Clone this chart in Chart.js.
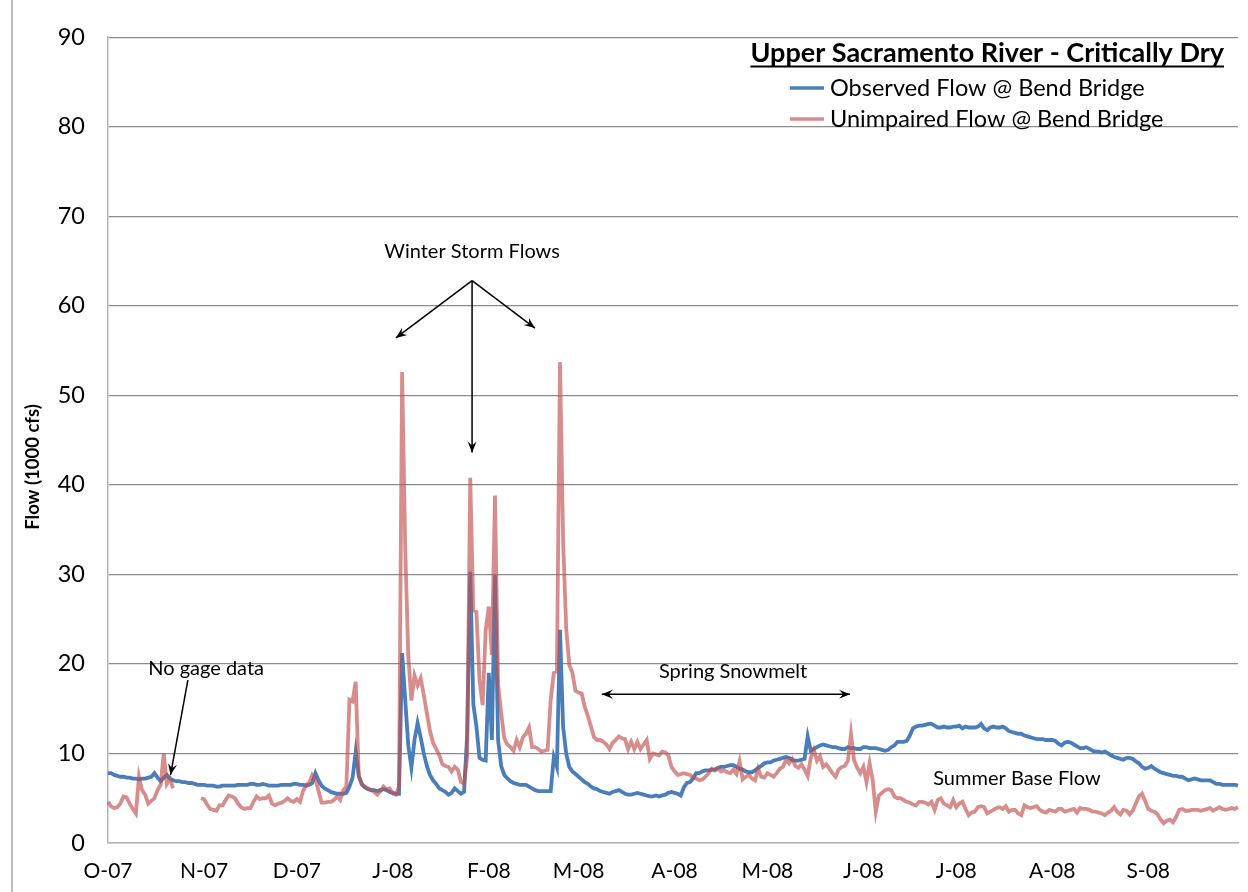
<!DOCTYPE html>
<html>
<head>
<meta charset="utf-8">
<title>Upper Sacramento River - Critically Dry</title>
<script src="https://cdn.jsdelivr.net/npm/chart.js@4.4.1/dist/chart.umd.min.js"></script>
<style>
    html, body { margin: 0; padding: 0; background: #fff; }
    #wrap { position: relative; width: 1248px; height: 892px; }
</style>
</head>
<body>
<div id="wrap"><canvas id="flow-canvas"></canvas></div>
<script>
// ========== Colors
let observedColor = '#4a7ebb';
let unimpairedColor = 'rgba(192, 80, 77, 0.65)';
let gridColor = '#8c8c8c';
let axisColor = '#b3b3b3';

// ========== Axis categories (water year Oct 2007 - Sep 2008, daily)
let monthTicks = ['O-07', 'N-07', 'D-07', 'J-08', 'F-08', 'M-08', 'A-08', 'M-08', 'J-08', 'J-08', 'A-08', 'S-08'];
let monthDays = [31, 30, 31, 31, 29, 31, 30, 31, 30, 31, 31, 30];

// ========== Observed Flow @ Bend Bridge (1000 cfs), one line per month
let observed = [
    7.8, 7.8, 7.6, 7.5, 7.4, 7.4, 7.3, 7.3, 7.2, 7.2, 7.1, 7.2, 7.2, 7.3, 7.4, 7.8, 7.3, 6.9, 7.3, 7.6, 7.2, 7.0, 6.9, 6.9, 6.8, 6.8, 6.7, 6.7, 6.6, 6.5, 6.5,
    6.5, 6.4, 6.4, 6.4, 6.3, 6.3, 6.4, 6.4, 6.4, 6.4, 6.4, 6.5, 6.5, 6.5, 6.5, 6.6, 6.6, 6.5, 6.5, 6.6, 6.5, 6.4, 6.4, 6.4, 6.4, 6.5, 6.5, 6.5, 6.5, 6.6,
    6.6, 6.5, 6.5, 6.4, 6.5, 6.7, 7.8, 7.0, 6.4, 6.1, 5.9, 5.7, 5.6, 5.5, 5.5, 5.5, 5.6, 6.3, 7.3, 10.2, 7.5, 6.6, 6.2, 6.0, 5.9, 5.9, 5.8, 5.9, 6.0, 5.9, 5.7,
    5.6, 5.5, 5.5, 21.2, 16.0, 10.9, 8.4, 11.5, 13.4, 11.8, 10.0, 8.6, 7.6, 7.0, 6.6, 6.1, 5.9, 5.7, 5.4, 5.6, 6.1, 5.8, 5.5, 5.7, 12.0, 30.3, 15.5, 13.0, 9.5, 9.3, 9.2,
    19.0, 11.5, 29.9, 11.5, 8.6, 7.6, 7.2, 6.9, 6.7, 6.6, 6.5, 6.5, 6.5, 6.3, 6.1, 5.9, 5.8, 5.8, 5.8, 5.8, 5.8, 9.6, 8.5, 23.8, 13.0, 10.0, 8.5, 8.0, 7.7,
    7.4, 7.1, 6.8, 6.6, 6.3, 6.1, 6.0, 5.8, 5.7, 5.6, 5.5, 5.7, 5.8, 5.9, 5.7, 5.5, 5.4, 5.4, 5.5, 5.6, 5.5, 5.4, 5.3, 5.2, 5.2, 5.3, 5.2, 5.3, 5.4, 5.6, 5.7,
    5.6, 5.5, 5.3, 6.2, 6.7, 6.8, 7.2, 7.8, 7.8, 8.0, 8.1, 8.1, 8.2, 8.2, 8.4, 8.5, 8.5, 8.6, 8.7, 8.7, 8.5, 8.3, 8.2, 8.0, 7.9, 7.9, 8.1, 8.4, 8.6, 8.9,
    9.0, 9.0, 9.2, 9.3, 9.4, 9.5, 9.6, 9.5, 9.3, 9.2, 9.2, 9.3, 9.4, 11.9, 10.3, 10.5, 10.7, 10.9, 11.0, 10.9, 10.8, 10.7, 10.7, 10.6, 10.5, 10.5, 10.7, 10.6, 10.6, 10.5, 10.5,
    10.7, 10.7, 10.6, 10.6, 10.6, 10.5, 10.4, 10.3, 10.4, 10.7, 10.9, 11.3, 11.3, 11.3, 11.4, 12.0, 12.8, 13.0, 13.1, 13.1, 13.2, 13.3, 13.3, 13.1, 12.9, 12.9, 13.0, 12.9, 12.9, 13.0,
    13.0, 13.1, 12.8, 13.0, 12.9, 12.9, 12.9, 13.0, 13.3, 12.8, 12.6, 12.9, 13.0, 12.9, 12.9, 13.0, 12.8, 12.5, 12.4, 12.3, 12.2, 12.2, 12.0, 11.9, 11.8, 11.7, 11.6, 11.6, 11.6, 11.5, 11.5,
    11.5, 11.4, 11.1, 10.9, 11.2, 11.3, 11.2, 11.0, 10.8, 10.6, 10.6, 10.7, 10.5, 10.3, 10.2, 10.2, 10.1, 10.2, 10.0, 9.8, 9.6, 9.5, 9.4, 9.3, 9.5, 9.5, 9.4, 9.1, 8.9, 8.5, 8.3,
    8.4, 8.6, 8.3, 8.1, 7.9, 7.8, 7.7, 7.6, 7.5, 7.5, 7.4, 7.4, 7.2, 7.0, 7.1, 7.2, 7.1, 7.0, 7.0, 7.0, 7.0, 6.8, 6.6, 6.6, 6.5, 6.5, 6.5, 6.5, 6.5, 6.4
];

// ========== Unimpaired Flow @ Bend Bridge (1000 cfs), null = no gage data
let unimpaired = [
    4.6, 4.1, 3.9, 4.0, 4.4, 5.2, 5.1, 4.4, 3.8, 3.3, 7.4, 5.9, 5.4, 4.4, 4.7, 5.0, 5.9, 6.5, 10.0, 6.6, 7.2, 6.1, null, null, null, null, null, null, null, null, 5.0,
    4.9, 4.3, 3.8, 3.7, 3.6, 4.2, 4.2, 4.8, 5.3, 5.2, 5.0, 4.4, 4.0, 3.8, 3.9, 3.9, 4.6, 5.2, 4.9, 5.0, 5.0, 5.3, 4.4, 4.2, 4.4, 4.5, 4.7, 5.0, 4.7, 4.6,
    4.9, 4.6, 5.8, 6.5, 6.7, 7.6, 7.2, 5.8, 4.5, 4.5, 4.6, 4.6, 4.8, 5.2, 4.8, 5.9, 6.3, 16.0, 15.8, 18.0, 7.5, 6.5, 6.3, 6.1, 5.9, 5.7, 5.4, 5.8, 6.3, 6.0, 6.1,
    5.5, 5.4, 6.3, 52.6, 33.0, 20.8, 15.9, 18.7, 17.6, 18.4, 16.5, 14.5, 12.5, 11.2, 10.5, 9.8, 8.8, 8.6, 8.5, 8.0, 8.5, 8.2, 6.8, 6.6, 9.6, 40.8, 26.0, 25.8, 18.2, 15.4, 23.8,
    26.4, 21.0, 38.8, 17.8, 14.5, 11.7, 11.0, 10.7, 10.3, 11.5, 10.7, 11.8, 12.2, 12.9, 10.7, 10.7, 10.5, 10.2, 10.3, 10.4, 16.0, 19.0, 19.2, 53.7, 33.8, 24.0, 19.9, 19.0, 17.0,
    16.8, 16.7, 15.2, 14.2, 13.0, 11.8, 11.5, 11.5, 11.3, 11.0, 10.5, 11.2, 11.5, 11.9, 11.7, 11.6, 10.5, 11.3, 10.5, 11.3, 10.5, 11.0, 11.5, 9.4, 10.0, 9.9, 9.8, 10.2, 10.1, 9.8, 8.5,
    8.0, 7.6, 7.7, 7.8, 7.7, 7.6, 7.3, 7.2, 7.0, 7.1, 7.4, 7.8, 8.3, 8.1, 8.3, 8.0, 8.1, 7.9, 7.8, 8.2, 7.7, 9.1, 7.1, 7.4, 7.6, 7.2, 7.0, 8.3, 7.4, 7.3,
    7.8, 7.6, 7.4, 7.8, 8.3, 8.5, 9.3, 8.9, 9.4, 8.6, 8.4, 8.8, 8.2, 7.5, 9.5, 10.4, 9.2, 9.7, 8.5, 8.8, 8.3, 7.8, 7.4, 8.2, 8.5, 8.6, 9.2, 12.2, 9.2, 8.4, 7.8,
    8.5, 6.8, 8.9, 7.0, 3.5, 5.3, 5.6, 5.9, 6.0, 5.9, 5.2, 5.0, 5.0, 4.8, 4.6, 4.5, 4.3, 4.2, 4.6, 4.6, 4.5, 4.3, 4.6, 3.7, 4.8, 5.0, 4.4, 4.2, 4.0, 4.8,
    4.0, 4.4, 4.6, 3.8, 3.1, 3.4, 3.5, 4.0, 4.1, 4.0, 3.3, 3.5, 3.7, 3.9, 4.0, 3.8, 4.1, 3.5, 3.7, 3.7, 3.3, 3.1, 4.2, 4.0, 3.9, 4.0, 4.1, 3.7, 3.5, 3.4, 3.7,
    3.6, 3.5, 3.8, 3.8, 3.5, 3.6, 3.7, 3.8, 3.4, 3.9, 3.8, 3.8, 3.7, 3.5, 3.5, 3.4, 3.3, 3.1, 3.4, 3.6, 4.0, 3.5, 3.2, 3.7, 3.6, 3.2, 3.6, 4.4, 5.2, 5.5, 4.7,
    3.8, 3.6, 3.5, 3.2, 2.6, 2.2, 2.5, 2.6, 2.3, 2.9, 3.7, 3.8, 3.6, 3.6, 3.7, 3.7, 3.7, 3.6, 3.7, 3.8, 3.9, 3.6, 3.8, 4.0, 3.8, 3.7, 3.8, 3.9, 3.8, 4.0
];

// ========== Annotations (x = day of water year, y = flow)
let notes = [
    { text: 'Winter Storm Flows', at: [117.6, 66.0] },
    { text: 'No gage data', at: [31.7, 19.5] },
    { text: 'Spring Snowmelt', at: [201.9, 19.1] },
    { text: 'Summer Base Flow', at: [293.6, 7.25] }
];
let arrows = [
    { from: [117.6, 62.8], to: [93.0, 56.4] },
    { from: [117.6, 62.8], to: [117.6, 43.6] },
    { from: [117.6, 62.8], to: [137.9, 57.5] },
    { from: [25.8, 18.2], to: [20.2, 7.6] },
    { from: [159.5, 16.6], to: [239.7, 16.6], both: true }
];

// one category per day, label only on the first day of a month
let dayLabels = [];
monthTicks.forEach(function (m, i) {
    for (let d = 0; d < monthDays[i]; d++) dayLabels.push(d === 0 ? m : '');
});

Chart.defaults.font.family = 'Lato, "Open Sans", sans-serif';
Chart.defaults.color = '#000';

function arrowHead(ctx, x0, y0, x1, y1) {
    let a = Math.atan2(y1 - y0, x1 - x0);
    ctx.save();
    ctx.translate(x1, y1);
    ctx.rotate(a);
    ctx.beginPath();
    ctx.moveTo(0, 0);
    ctx.lineTo(-11, -4.5);
    ctx.lineTo(-7, 0);
    ctx.lineTo(-11, 4.5);
    ctx.closePath();
    ctx.fill();
    ctx.restore();
}

let flowDecor = {
    id: 'flowDecor',
    beforeDraw: function (chart) {
        let ctx = chart.ctx;
        ctx.save();
        ctx.strokeStyle = '#a6a6a6';
        ctx.lineWidth = 1.5;
        ctx.beginPath();
        ctx.moveTo(12, 0);
        ctx.lineTo(12, chart.height);
        ctx.stroke();
        ctx.restore();
    },
    afterDatasetsDraw: function (chart) {
        let ctx = chart.ctx, xs = chart.scales.x, ys = chart.scales.y;
        ctx.save();
        ctx.fillStyle = '#000';
        ctx.strokeStyle = '#000';
        ctx.lineWidth = 1.5;
        arrows.forEach(function (a) {
            let x0 = xs.getPixelForValue(a.from[0]), y0 = ys.getPixelForValue(a.from[1]);
            let x1 = xs.getPixelForValue(a.to[0]), y1 = ys.getPixelForValue(a.to[1]);
            ctx.beginPath();
            ctx.moveTo(x0, y0);
            ctx.lineTo(x1, y1);
            ctx.stroke();
            arrowHead(ctx, x0, y0, x1, y1);
            if (a.both) arrowHead(ctx, x1, y1, x0, y0);
        });
        ctx.font = '20px Lato';
        ctx.textAlign = 'center';
        ctx.textBaseline = 'middle';
        notes.forEach(function (n) {
            ctx.fillText(n.text, xs.getPixelForValue(n.at[0]), ys.getPixelForValue(n.at[1]));
        });
        ctx.restore();
    },
    afterDraw: function (chart) {
        let ctx = chart.ctx;
        ctx.save();
        // y axis title
        ctx.translate(33, 467);
        ctx.rotate(-Math.PI / 2);
        ctx.font = 'bold 18.5px Lato';
        ctx.textAlign = 'center';
        ctx.textBaseline = 'middle';
        ctx.fillStyle = '#000';
        ctx.fillText('Flow (1000 cfs)', 0, 0);
        ctx.restore();

        // legend with title
        ctx.save();
        ctx.fillStyle = '#000';
        ctx.font = 'bold 27px Lato';
        ctx.textAlign = 'right';
        ctx.textBaseline = 'alphabetic';
        let title = 'Upper Sacramento River - Critically Dry';
        ctx.fillText(title, 1224, 62);
        let tw = ctx.measureText(title).width;
        ctx.fillRect(1224 - tw, 65.5, tw, 2);
        ctx.font = '23.5px Lato';
        ctx.textAlign = 'left';
        ctx.textBaseline = 'middle';
        chart.data.datasets.forEach(function (ds, i) {
            let y = 88 + i * 31;
            ctx.strokeStyle = ds.borderColor;
            ctx.lineWidth = 3.5;
            ctx.beginPath();
            ctx.moveTo(790, y);
            ctx.lineTo(824, y);
            ctx.stroke();
            ctx.fillText(ds.label, 830, y);
        });
        ctx.restore();
    }
};

var flowCanvas = document.getElementById('flow-canvas');
var flowChart = new Chart(flowCanvas, {
    type: 'line',
    data: {
        labels: dayLabels,
        datasets: [{
            label: 'Observed Flow @ Bend Bridge',
            data: observed,
            borderColor: observedColor,
            borderWidth: 3.8,
            pointRadius: 0,
            tension: 0,
            order: 2
        }, {
            label: 'Unimpaired Flow @ Bend Bridge',
            data: unimpaired,
            borderColor: unimpairedColor,
            borderWidth: 3.8,
            pointRadius: 0,
            tension: 0,
            spanGaps: false,
            order: 1
        }]
    },
    options: {
        responsive: true,
        maintainAspectRatio: false,
        animation: false,
        layout: { padding: { top: 36, right: 10, left: 0, bottom: 0 } },
        plugins: {
            legend: { display: false },
            tooltip: { enabled: false }
        },
        scales: {
            x: {
                grid: { display: false },
                border: { display: true, color: axisColor, width: 1.5 },
                ticks: { autoSkip: false, maxRotation: 0, minRotation: 0, padding: 8, font: { size: 21 } },
                afterFit: function (s) { s.height = 49; }
            },
            y: {
                min: 0,
                max: 90,
                ticks: { stepSize: 10, padding: 23, font: { size: 23.5 } },
                grid: {
                    drawTicks: false,
                    lineWidth: 1.2,
                    color: function (c) { return c.tick && c.tick.value === 0 ? axisColor : gridColor; }
                },
                border: { display: true, color: axisColor, width: 1.5 },
                afterFit: function (s) { s.width = 108; }
            }
        }
    },
    plugins: [flowDecor]
});
</script>
</body>
</html>
